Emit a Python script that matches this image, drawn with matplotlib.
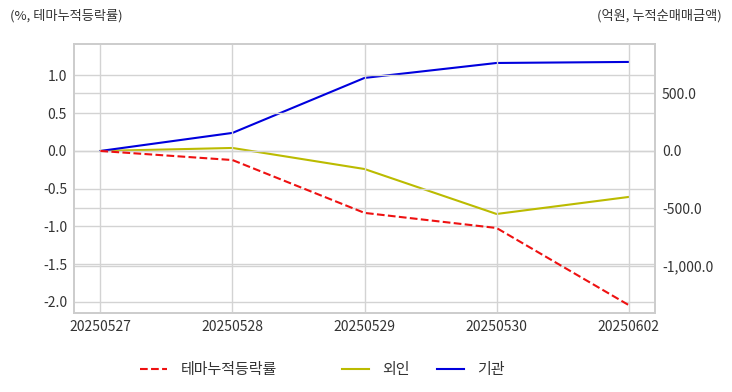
import matplotlib.pyplot as plt
import matplotlib
from matplotlib.ticker import FuncFormatter
matplotlib.rcParams['axes.unicode_minus'] = False
plt.rcParams['font.family'] = ['Noto Sans CJK KR', 'DejaVu Sans']

dates = ['20250527', '20250528', '20250529', '20250530', '20250602']
theme_rate = [0.0, -0.12, -0.82, -1.02, -2.04]
foreign = [0.0, 26.0, -157.0, -548.0, -400.0]
institution = [0.0, 157.0, 635.0, 765.0, 774.0]

text_c = '#333333'
grid_c = '#d3d3d3'

fig = plt.figure(figsize=(7.32, 3.92), dpi=100)
ax = fig.add_axes([74 / 732, 1 - 313 / 392, 581 / 732, 269 / 392])
ax2 = ax.twinx()

x = list(range(len(dates)))
l1, = ax.plot(x, theme_rate, '--', color='#ee1111', lw=1.5, label='테마누적등락률')
l2, = ax2.plot(x, foreign, '-', color='#bbbb00', lw=1.5, label='외인')
l3, = ax2.plot(x, institution, '-', color='#0000dd', lw=1.5, label='기관')

ax.set_xlim(-0.2, 4.2)
ax.set_ylim(-2.146, 1.417)
ax2.set_ylim(-1409, 930)
ax.set_xticks(x)
ax.set_xticklabels(dates)
ax.set_yticks([-2.0, -1.5, -1.0, -0.5, 0.0, 0.5, 1.0])
ax.yaxis.set_major_formatter(FuncFormatter(lambda v, p: f'{v:.1f}'))
ax2.set_yticks([-1000, -500, 0, 500])
ax2.yaxis.set_major_formatter(FuncFormatter(lambda v, p: f'{v:,.1f}'))

ax.grid(True, color=grid_c, lw=1)
ax2.grid(True, axis='y', color=grid_c, lw=1)
ax.set_axisbelow(True)
ax2.set_axisbelow(True)
ax.set_zorder(ax2.get_zorder() + 1)
ax.patch.set_visible(False)

for a in (ax, ax2):
    for s in a.spines.values():
        s.set_color('#cccccc')
        s.set_linewidth(1.2)
    a.tick_params(length=0, labelsize=10, colors=text_c, pad=5)

fig.text(10 / 732, 1 - 16 / 392, '(%, 테마누적등락률)', fontsize=9.5, color=text_c, va='center', ha='left')
fig.text(722 / 732, 1 - 16 / 392, '(억원, 누적순매매금액)', fontsize=9.5, color=text_c, va='center', ha='right')

# one legend per entry so the uneven spacing can be matched
for handle, name, xpos in [(l1, '테마누적등락률', 140), (l2, '외인', 342), (l3, '기관', 437)]:
    fig.legend([handle], [name], loc='center left',
               bbox_to_anchor=(xpos / 732, 1 - 370 / 392), frameon=False,
               fontsize=10.8, labelcolor=text_c, handlelength=1.8,
               handletextpad=0.9, borderpad=0, borderaxespad=0)

fig.savefig('out.png', dpi=100, facecolor='white')
